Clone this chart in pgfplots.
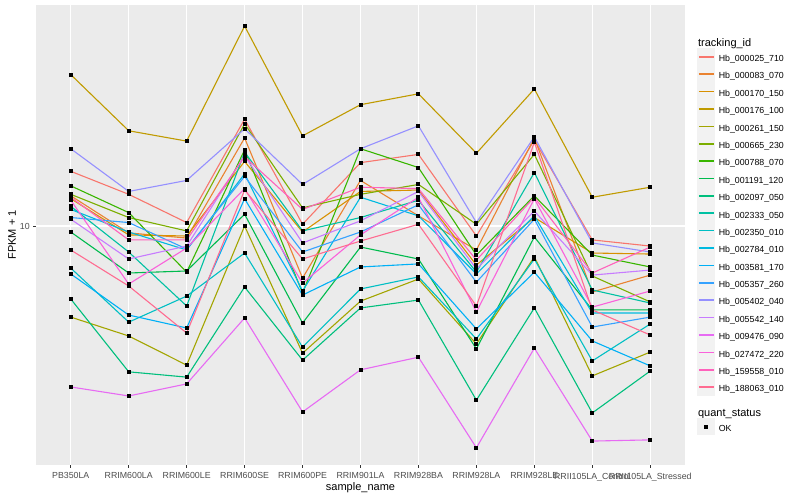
\documentclass[border=0pt]{standalone}
\usepackage{pgfplots}
\usepackage{pgfplotstable}
\pgfplotsset{compat=1.18}
\usepackage{fontspec}
\setmainfont{Liberation Sans}
\definecolor{c1}{HTML}{F8766D}
\definecolor{c2}{HTML}{EA8331}
\definecolor{c3}{HTML}{D89000}
\definecolor{c4}{HTML}{C09B00}
\definecolor{c5}{HTML}{A3A500}
\definecolor{c6}{HTML}{7CAE00}
\definecolor{c7}{HTML}{39B600}
\definecolor{c8}{HTML}{00BB4E}
\definecolor{c9}{HTML}{00BF7D}
\definecolor{c10}{HTML}{00C1A3}
\definecolor{c11}{HTML}{00BFC4}
\definecolor{c12}{HTML}{00BAE0}
\definecolor{c13}{HTML}{00B0F6}
\definecolor{c14}{HTML}{35A2FF}
\definecolor{c15}{HTML}{9590FF}
\definecolor{c16}{HTML}{C77CFF}
\definecolor{c17}{HTML}{E76BF3}
\definecolor{c18}{HTML}{FA62DB}
\definecolor{c19}{HTML}{FF62BC}
\definecolor{c20}{HTML}{FF6C91}
\definecolor{panelbg}{HTML}{EBEBEB}
\definecolor{keybg}{HTML}{F2F2F2}
\definecolor{grey20}{HTML}{333333}
\definecolor{grey30}{HTML}{4D4D4D}
\newcommand{\ls}{\rule[-6.28pt]{0pt}{17.28pt}}
\pgfplotstableread{
x s1 s2 s3 s4 s5 s6 s7 s8 s9 s10 s11 s12 s13 s14 s15 s16 s17 s18 s19 s20
0 13.7 11.9 11.7 23.9 5.92 12.0 12.6 9.66 6.57 11.2 7.85 11.0 7.59 10.5 15.6 10.4 3.96 11.6 11.8 8.71
1 12.0 9.61 9.50 17.3 5.31 10.5 10.8 7.63 4.32 8.61 5.75 9.66 5.99 10.2 12.2 8.27 3.76 7.16 9.23 7.08
2 10.2 9.33 9.44 16.3 4.49 9.72 7.67 7.72 4.19 6.31 6.68 8.71 5.56 8.76 13.0 8.91 4.03 8.81 9.23 5.40
3 18.5 16.6 14.5 31.6 10.0 18.0 15.5 10.7 7.04 15.3 8.56 13.5 11.7 13.3 17.5 15.0 5.89 12.4 14.9 12.3
4 10.1 7.41 9.66 16.8 4.81 11.1 6.80 5.72 4.62 9.72 4.98 6.88 6.72 8.61 12.7 9.07 3.43 7.20 11.0 8.27
5 14.4 13.0 12.2 20.1 6.49 12.0 15.6 8.86 6.24 10.5 6.96 11.8 7.90 9.66 15.6 10.3 4.37 9.50 12.5 9.17
6 15.1 10.6 12.3 21.4 7.37 12.7 14.0 8.27 6.53 11.6 7.46 10.6 8.04 11.3 17.8 12.2 4.70 11.8 12.4 10.1
7 9.44 8.71 7.99 15.2 5.07 10.1 8.46 4.93 3.67 7.67 5.22 7.59 5.53 7.24 10.2 7.81 2.79 6.10 8.22 6.31
8 16.4 16.6 10.5 22.0 8.37 15.1 11.9 9.39 6.24 13.6 8.27 10.6 7.67 10.4 16.7 10.9 4.95 11.7 11.8 16.2
9 9.23 6.84 8.56 11.8 4.22 7.50 8.46 6.17 3.41 6.92 4.60 6.06 5.16 5.59 9.07 7.54 2.90 6.27 7.63 6.17
10 8.91 7.54 8.51 12.5 4.84 6.46 7.90 6.17 4.34 6.42 5.69 6.06 4.47 5.92 8.61 7.76 2.92 6.88 8.86 5.34
}\data
\begin{document}
\begin{tikzpicture}
\path[use as bounding box] (0,0) rectangle (800pt,500pt);
\fill[white] (0,0) rectangle (800pt,500pt);
\begin{axis}[
  at={(36pt,35pt)}, anchor=south west,
  scale only axis, width=649pt, height=460pt,
  xmin=-0.6, xmax=10.6,
  ymode=log, ymin=2.527, ymax=35.68,
  xtick={0,...,10},
  xticklabels={PB350LA,RRIM600LA,RRIM600LE,RRIM600SE,RRIM600PE,RRIM901LA,RRIM928BA,RRIM928LA,RRIM928LE,RRII105LA\_Control,RRII105LA\_Stressed},
  ytick={10}, yticklabels={10},
  yminorticks=false, xminorticks=false,
  xtick pos=bottom, ytick pos=left,
  tick align=outside, major tick length=2.75pt,
  tick style={color=grey20, line width=0.6pt},
  axis line style={draw=none},
  axis background/.style={fill=panelbg},
  grid=major, major grid style={white, line width=1.07pt},
  every tick label/.append style={font=\fontsize{8.8}{10}\selectfont, text=grey30},
  xticklabel style={yshift=-1.5pt},
  xlabel={sample\_name}, ylabel={FPKM + 1},
  every axis x label/.style={at={(axis description cs:0.5,-0.05)}, anchor=center, font=\fontsize{11}{13}\selectfont},
  every axis y label/.style={at={(axis description cs:-0.037,0.5)}, rotate=90, anchor=center, font=\fontsize{11}{13}\selectfont},
  legend style={at={(axis description cs:1.01849,0.9333)}, anchor=north west, draw=none, fill=white,
    inner sep=0pt, outer sep=0pt, row sep=0pt, column sep=3.4pt,
    nodes={inner sep=0pt, outer sep=0pt}, font=\fontsize{8.8}{10}\selectfont},
  legend cell align=left,
  legend image code/.code={\fill[keybg] (0pt,-8.14pt) rectangle (17.28pt,8.14pt); \draw[#1, line width=1.6pt] (1.2pt,0pt) -- (16.08pt,0pt);},
  every axis plot/.append style={line width=1.1pt},
]
\addlegendimage{empty legend}
\addlegendentry{\hspace*{-20.68pt}\fontsize{11}{13}\selectfont tracking\_id\ls}
\addplot[c1, mark=none] table[x=x,y=s1]{\data}; \addlegendentry{Hb\_000025\_710\ls}
\addplot[c2, mark=none] table[x=x,y=s2]{\data}; \addlegendentry{Hb\_000083\_070\ls}
\addplot[c3, mark=none] table[x=x,y=s3]{\data}; \addlegendentry{Hb\_000170\_150\ls}
\addplot[c4, mark=none] table[x=x,y=s4]{\data}; \addlegendentry{Hb\_000176\_100\ls}
\addplot[c5, mark=none] table[x=x,y=s5]{\data}; \addlegendentry{Hb\_000261\_150\ls}
\addplot[c6, mark=none] table[x=x,y=s6]{\data}; \addlegendentry{Hb\_000665\_230\ls}
\addplot[c7, mark=none] table[x=x,y=s7]{\data}; \addlegendentry{Hb\_000788\_070\ls}
\addplot[c8, mark=none] table[x=x,y=s8]{\data}; \addlegendentry{Hb\_001191\_120\ls}
\addplot[c9, mark=none] table[x=x,y=s9]{\data}; \addlegendentry{Hb\_002097\_050\ls}
\addplot[c10, mark=none] table[x=x,y=s10]{\data}; \addlegendentry{Hb\_002333\_050\ls}
\addplot[c11, mark=none] table[x=x,y=s11]{\data}; \addlegendentry{Hb\_002350\_010\ls}
\addplot[c12, mark=none] table[x=x,y=s12]{\data}; \addlegendentry{Hb\_002784\_010\ls}
\addplot[c13, mark=none] table[x=x,y=s13]{\data}; \addlegendentry{Hb\_003581\_170\ls}
\addplot[c14, mark=none] table[x=x,y=s14]{\data}; \addlegendentry{Hb\_005357\_260\ls}
\addplot[c15, mark=none] table[x=x,y=s15]{\data}; \addlegendentry{Hb\_005402\_040\ls}
\addplot[c16, mark=none] table[x=x,y=s16]{\data}; \addlegendentry{Hb\_005542\_140\ls}
\addplot[c17, mark=none] table[x=x,y=s17]{\data}; \addlegendentry{Hb\_009476\_090\ls}
\addplot[c18, mark=none] table[x=x,y=s18]{\data}; \addlegendentry{Hb\_027472\_220\ls}
\addplot[c19, mark=none] table[x=x,y=s19]{\data}; \addlegendentry{Hb\_159558\_010\ls}
\addplot[c20, mark=none] table[x=x,y=s20]{\data}; \addlegendentry{Hb\_188063\_010\ls}
\pgfplotsinvokeforeach{1,...,20}{
  \addplot[only marks, mark=square*, mark size=1.5pt, mark options={draw=black, fill=black, line width=0pt}, forget plot] table[x=x,y=s#1]{\data};
}
\addlegendimage{empty legend}
\addlegendentry{\hspace*{-20.68pt}\fontsize{11}{13}\selectfont quant\_status\rule[-6.28pt]{0pt}{27pt}}
\addlegendimage{black, legend image code/.code={\fill[keybg] (0pt,-8.14pt) rectangle (17.28pt,8.14pt); \draw[black, fill=black] plot[only marks, mark=square*, mark size=1.5pt] coordinates {(8.64pt,0pt)};}}
\addlegendentry{OK\ls}
\end{axis}
\end{tikzpicture}
\end{document}
